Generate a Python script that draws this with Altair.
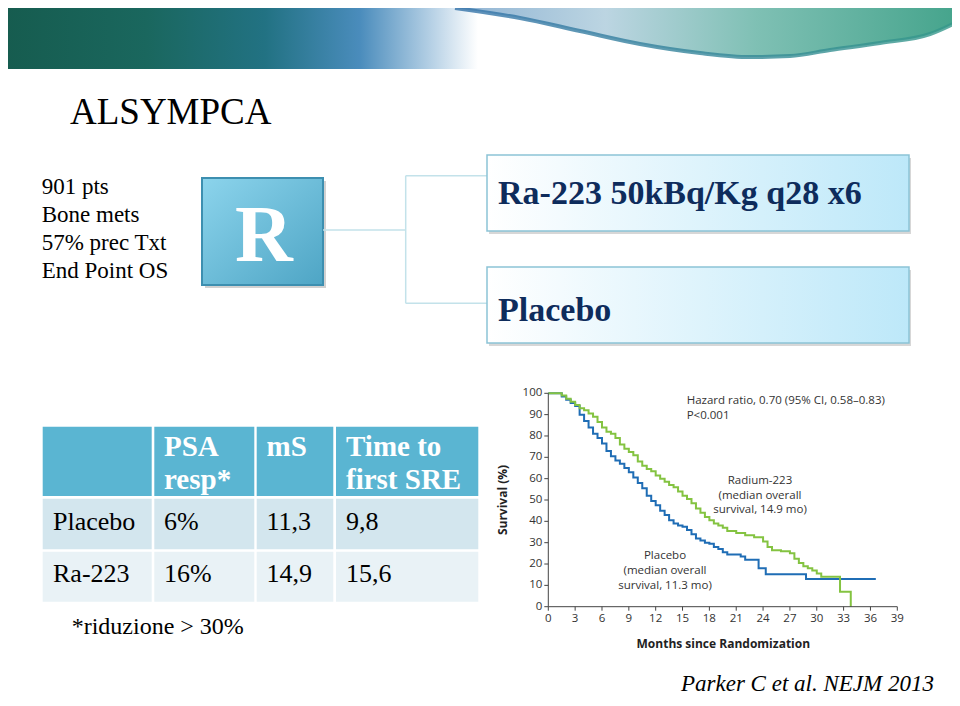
import altair as alt
import pandas as pd

# ---------------- data ----------------
placebo_months = [0, 1.0, 1.5, 2, 2.5, 3, 3.5, 4, 4.5, 5,
                  5.5, 6, 6.5, 7, 7.5, 8, 8.5, 9, 9.5, 10,
                  10.5, 11, 11.5, 12, 12.5, 13, 13.5, 14, 14.5, 15,
                  15.5, 16, 16.5, 17, 17.5, 18, 18.5, 19, 19.5, 20,
                  21, 21.5, 22, 23.5, 24.3, 28.8, 36.6]
placebo_surv = [100, 100, 98.5, 97, 95.5, 94, 90, 87, 84, 81,
                79, 76.5, 73, 70.5, 68.5, 67, 65, 63, 60.5, 58,
                55.5, 52, 49.5, 47.5, 45, 43, 40.5, 39, 38, 37.5,
                36, 34, 32, 31, 30, 29.5, 28, 27, 25.5, 24.5,
                24.5, 23.5, 22, 18, 15.2, 13, 13]

radium_months = [0, 1.2, 1.5, 2, 2.5, 3, 3.5, 4, 4.5, 5,
                 5.5, 6, 6.5, 7, 7.5, 8, 8.5, 9, 9.5, 10,
                 10.5, 11, 11.5, 12, 12.5, 13, 13.5, 14, 14.5, 15,
                 15.5, 16, 16.5, 17, 17.5, 18, 18.5, 19, 19.5, 20,
                 21, 22, 23, 24, 24.5, 25, 26, 27, 27.5, 28,
                 28.5, 29, 29.5, 30, 30.5, 32.6, 33.8]
radium_surv = [100, 100, 99, 97.5, 96, 94.5, 93, 92, 90.5, 89,
               86.5, 84, 82, 81, 79, 76, 74, 72.5, 71, 68,
               66, 64.5, 63.5, 61.5, 60, 58.5, 57, 56, 54, 52,
               50.5, 48.5, 46, 44, 42, 40.5, 39, 38, 37, 35.5,
               34.5, 33.5, 32.5, 30.5, 28, 26.5, 26, 25, 22.5, 20.5,
               19, 18, 17, 15.5, 14, 7, 0]

x_ticks = [0, 3, 6, 9, 12, 15, 18, 21, 24, 27, 30, 33, 36, 39]
y_ticks = [0, 10, 20, 30, 40, 50, 60, 70, 80, 90, 100]

title_text = "ALSYMPCA"
patient_info = ["901 pts", "Bone mets", "57% prec Txt", "End Point OS"]
arms = ["Ra-223 50kBq/Kg q28 x6", "Placebo"]
table_header = [[], ["PSA", "resp*"], ["mS"], ["Time to", "first SRE"]]
table_rows = [["Placebo", "6%", "11,3", "9,8"],
              ["Ra-223", "16%", "14,9", "15,6"]]
footnote = "*riduzione > 30%"
citation = "Parker C et al. NEJM 2013"
hr_text = ["Hazard ratio, 0.70 (95% CI, 0.58\u20130.83)", "P<0.001"]
radium_label = ["Radium-223", "(median overall", "survival, 14.9 mo)"]
placebo_label = ["Placebo", "(median overall", "survival, 11.3 mo)"]

# ---------------- layout / style (reference page pixels) ----------------
OFF = 8
W, H = 944, 690
SERIF = "Liberation Serif"
SANS = "Open Sans"
BLUE = "#1f6db5"
GREEN = "#84c341"
NAVY = "#0e2c5c"
KM_X = (548.3, 897.3)
KM_Y = (606.7, 393.3)
col_edges = [(42.7, 151.7), (154.3, 254.3), (256.7, 333.3), (336, 478.3)]
row_edges = [(426.7, 496), (498.7, 549.3), (551.7, 601.7)]
row_fills = ["#5ab5d2", "#d3e6ee", "#e9f2f6"]
text_x = [53, 164, 266.5, 346]
header_base = [456, 489]
body_base = [530, 582]


def cx(v):
    return v - OFF


X_KM = alt.Scale(domain=[0, 39], range=[cx(KM_X[0]), cx(KM_X[1])], nice=False, zero=False)
Y_KM = alt.Scale(domain=[0, 100], range=[cx(KM_Y[0]), cx(KM_Y[1])], nice=False, zero=False)


def XP(f):
    return alt.X(f"{f}:Q", scale=None, axis=None)


def YP(f):
    return alt.Y(f"{f}:Q", scale=None, axis=None)


def lin(stops, x1=0, y1=0, x2=1, y2=0):
    return {"gradient": "linear", "x1": x1, "y1": y1, "x2": x2, "y2": y2,
            "stops": [{"offset": o, "color": c} for o, c in stops]}


def text_layer(items, **mk):
    mk.setdefault("baseline", "alphabetic")
    df = pd.DataFrame([{"x": cx(x), "y": cx(y), "t": t} for x, y, t in items])
    return alt.Chart(df).mark_text(**mk).encode(x=XP("x"), y=YP("y"), text="t:N")


def rect_layer(items, **mk):
    rows = []
    for it in items:
        r = {"x": cx(it[0]), "y": cx(it[1]), "x2": cx(it[2]), "y2": cx(it[3])}
        if len(it) > 4:
            r["fill"] = it[4]
        rows.append(r)
    df = pd.DataFrame(rows)
    enc = dict(x=XP("x"), x2="x2:Q", y=YP("y"), y2="y2:Q")
    if "fill" in df.columns:
        enc["color"] = alt.Color("fill:N", scale=None, legend=None)
    return alt.Chart(df).mark_rect(**mk).encode(**enc)


def rule_layer(items, **mk):
    df = pd.DataFrame([{"x": cx(a), "y": cx(b), "x2": cx(c), "y2": cx(d)} for a, b, c, d in items])
    return alt.Chart(df).mark_rule(**mk).encode(x=XP("x"), x2="x2:Q", y=YP("y"), y2="y2:Q")


layers = []

# ---- banner ----
layers.append(rect_layer([(5, 8, 478, 69)], fill=lin([(0, "#165c4f"), (0.3, "#1a675e"), (0.55, "#227283"),
                                                       (0.75, "#4a8cbc"), (0.9, "#b5d0e5"), (1, "#ffffff")])))
wave_x = [455, 520, 580, 640, 700, 750, 790, 830, 880, 930, 957]
wave_y = [8, 18, 31, 44, 53, 57, 56, 50, 43, 34, 22]
wave_df = pd.DataFrame({"x": [cx(v) for v in wave_x], "y": [cx(v) for v in wave_y], "y0": 0})
layers.append(alt.Chart(wave_df).mark_area(interpolate="monotone",
                                          fill=lin([(0, "#8fb3d3"), (0.3, "#bcd5e2"), (0.6, "#7fc0b4"), (1, "#45a48c")])
                                          ).encode(x=XP("x"), y=YP("y"), y2="y0:Q"))
layers.append(alt.Chart(wave_df).mark_line(interpolate="monotone", strokeWidth=4, opacity=0.8,
                                          stroke=lin([(0, "#3573aa"), (1, "#36998a")])
                                          ).encode(x=XP("x"), y=YP("y")))

# ---- title and left list ----
layers.append(text_layer([(70, 124, title_text)], font=SERIF, fontSize=37, align="left", color="#000"))
layers.append(text_layer([(41.7, 194.3 + 28 * i, t) for i, t in enumerate(patient_info)],
                         font=SERIF, fontSize=23, align="left", color="#000"))

# ---- randomisation box ----
layers.append(rect_layer([(205, 181, 326, 288)], fill="#7a7a7a", opacity=0.35))
layers.append(rect_layer([(202, 178, 323, 285)], fill=lin([(0, "#8cd4ec"), (1, "#4ea5c5")], 0, 0, 1, 1),
                         stroke="#3d8fb0", strokeWidth=2))
layers.append(text_layer([(264, 261, "R")], font=SERIF, fontSize=80, fontWeight="bold",
                         align="center", color="#ffffff"))

# connectors
layers.append(rule_layer([(323, 230, 405.7, 230), (405.7, 175.7, 405.7, 303.3),
                          (405.7, 175.7, 487, 175.7), (405.7, 303.3, 487, 303.3)],
                         stroke="#c3e2ea", strokeWidth=1.5))

# arm boxes
arm_boxes = [(487, 155, 909, 231), (487, 267, 909, 343)]
layers.append(rect_layer([(a + 2, b + 3, c + 2, d + 3) for a, b, c, d in arm_boxes], fill="#7a7a7a", opacity=0.3))
layers.append(rect_layer(arm_boxes, fill=lin([(0, "#ffffff"), (1, "#bde8f9")]), stroke="#8cc3d6", strokeWidth=1.5))
layers.append(text_layer([(498, 204, arms[0]), (498, 321, arms[1])], font=SERIF, fontSize=34,
                         fontWeight="bold", align="left", color=NAVY))

# ---- table ----
cells = []
for ri, (y0, y1) in enumerate(row_edges):
    for (x0, x1) in col_edges:
        cells.append((x0, y0, x1, y1, row_fills[ri]))
layers.append(rect_layer(cells))
head_items = []
for ci, lines in enumerate(table_header):
    for li, t in enumerate(lines):
        head_items.append((text_x[ci], header_base[li], t))
layers.append(text_layer(head_items, font=SERIF, fontSize=29, fontWeight="bold", align="left", color="#ffffff"))
body_items = []
for ri, row in enumerate(table_rows):
    for ci, t in enumerate(row):
        body_items.append((text_x[ci], body_base[ri], t))
layers.append(text_layer(body_items, font=SERIF, fontSize=26, align="left", color="#000"))
layers.append(text_layer([(71.7, 634, footnote)], font=SERIF, fontSize=24, align="left", color="#000"))
layers.append(text_layer([(681, 691, citation)], font=SERIF, fontSize=23, fontStyle="italic",
                         align="left", color="#000"))

# ---- Kaplan-Meier plot ----
km_df = pd.concat([
    pd.DataFrame({"month": placebo_months, "surv": placebo_surv, "arm": "Placebo"}),
    pd.DataFrame({"month": radium_months, "surv": radium_surv, "arm": "Radium-223"}),
])
layers.append(alt.Chart(km_df).mark_line(interpolate="step-after", strokeWidth=2).encode(
    x=alt.X("month:Q", scale=X_KM, axis=None),
    y=alt.Y("surv:Q", scale=Y_KM, axis=None),
    color=alt.Color("arm:N", scale=alt.Scale(domain=["Placebo", "Radium-223"], range=[BLUE, GREEN]), legend=None),
))
axis_df = pd.DataFrame([{"m0": 0, "m1": 0, "s0": 0, "s1": 100}, {"m0": 0, "m1": 39, "s0": 0, "s1": 0}])
layers.append(alt.Chart(axis_df).mark_rule(color="#444", strokeWidth=1).encode(
    x=alt.X("m0:Q", scale=X_KM, axis=None), x2="m1:Q",
    y=alt.Y("s0:Q", scale=Y_KM, axis=None), y2="s1:Q"))
layers.append(alt.Chart(pd.DataFrame({"v": y_ticks})).mark_rule(color="#444").encode(
    y=alt.Y("v:Q", scale=Y_KM, axis=None), x=alt.value(cx(KM_X[0] - 4)), x2=alt.value(cx(KM_X[0]))))
layers.append(alt.Chart(pd.DataFrame({"v": x_ticks})).mark_rule(color="#444").encode(
    x=alt.X("v:Q", scale=X_KM, axis=None), y=alt.value(cx(KM_Y[0])), y2=alt.value(cx(KM_Y[0] + 4))))
layers.append(alt.Chart(pd.DataFrame({"v": y_ticks})).mark_text(
    font=SANS, fontSize=11.5, align="right", baseline="middle", color="#333").encode(
    y=alt.Y("v:Q", scale=Y_KM, axis=None), x=alt.value(cx(KM_X[0] - 6)), text="v:Q"))
layers.append(alt.Chart(pd.DataFrame({"v": x_ticks})).mark_text(
    font=SANS, fontSize=11.5, align="center", baseline="top", color="#333").encode(
    x=alt.X("v:Q", scale=X_KM, axis=None), y=alt.value(cx(KM_Y[0] + 6)), text="v:Q"))
layers.append(text_layer([(503.3, 500, "Survival (%)")], font=SANS, fontSize=12, fontWeight="bold",
                         angle=270, align="center", baseline="middle", color="#222"))
layers.append(text_layer([(723.3, 644, "Months since Randomization")], font=SANS, fontSize=12,
                         fontWeight="bold", align="center", baseline="middle", color="#222"))
layers.append(text_layer([(686.7, 404, hr_text[0]), (686.7, 418.5, hr_text[1])],
                         font=SANS, fontSize=11.5, align="left", color="#333"))
layers.append(text_layer([(760, 484 + 14.5 * i, t) for i, t in enumerate(radium_label)],
                         font=SANS, fontSize=11.5, align="center", color="#333"))
layers.append(text_layer([(665, 559 + 15 * i, t) for i, t in enumerate(placebo_label)],
                         font=SANS, fontSize=11.5, align="center", color="#333"))

chart = alt.layer(*layers).resolve_scale(
    x="independent", y="independent", color="independent"
).properties(
    width=W, height=H, padding=0, autosize=alt.AutoSizeParams(type="none"), background="#ffffff"
).configure_view(stroke=None)

chart.save("out.html", embed_options={"renderer": "svg", "actions": False})
